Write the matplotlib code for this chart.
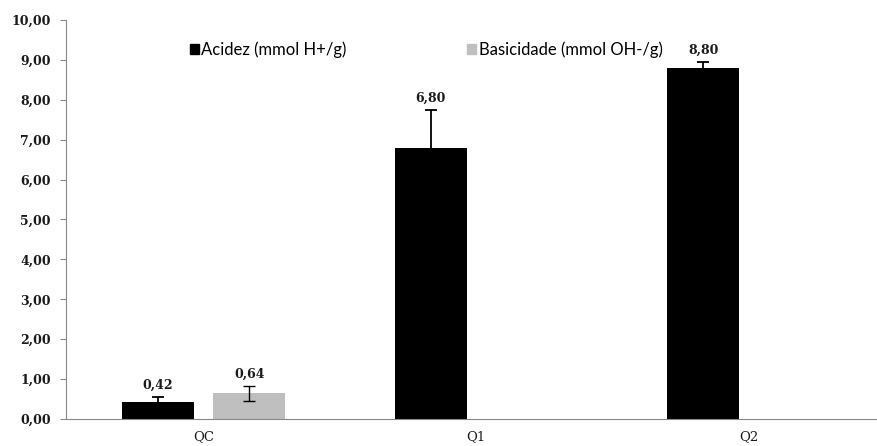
import numpy as np
import matplotlib.pyplot as plt
from matplotlib.patches import Patch

# Data
categories = ['QC', 'Q1', 'Q2']
acidez = [0.42, 6.80, 8.80]
acidez_err = [0.13, 0.94, 0.15]
basicidade = [0.64, 0.0, 0.0]
basicidade_err = [0.18, 0.0, 0.0]
acidez_labels = ['0,42', '6,80', '8,80']
basicidade_labels = ['0,64', None, None]
y_ticks = np.arange(0, 11, 1)

SERIF = {'family': 'DejaVu Serif', 'size': 9, 'weight': 'bold', 'color': '#1a1a1a'}

fig = plt.figure(figsize=(8.77, 4.46), dpi=100)
ax = fig.add_axes([66 / 877, 27 / 446, (877 - 66) / 877, 399 / 446])

x = np.arange(len(categories))
w = 0.265
off = 0.167

ax.bar(x - off, acidez, w, color='black', zorder=2)
ax.bar(x + off, basicidade, w, color='#bfbfbf', zorder=2)

ax.errorbar(x - off, acidez, yerr=acidez_err, fmt='none', ecolor='black',
            elinewidth=1.3, capsize=4, capthick=1.3, zorder=3)
bx = [xi + off for xi, v in zip(x, basicidade) if v > 0]
bv = [v for v in basicidade if v > 0]
be = [e for e, v in zip(basicidade_err, basicidade) if v > 0]
ax.errorbar(bx, bv, yerr=be, fmt='none', ecolor='black',
            elinewidth=1.0, capsize=4, capthick=1.0, zorder=3)

for xi, v, e, lab in zip(x, acidez, acidez_err, acidez_labels):
    ax.text(xi - off, v + e + 0.3, lab, ha='center', va='center', **SERIF)
for xi, v, e, lab in zip(x, basicidade, basicidade_err, basicidade_labels):
    if lab:
        ax.text(xi + off, v + e + 0.3, lab, ha='center', va='center', **SERIF)

ax.set_xlim(-0.505, 2.47)
ax.set_ylim(0, 10)
ax.set_yticks(y_ticks)
ax.set_yticklabels([f'{t:.2f}'.replace('.', ',') for t in y_ticks], **SERIF)
ax.set_xticks(x)
ax.set_xticklabels(categories, family='DejaVu Serif', fontsize=9.5, color='#1a1a1a')
ax.tick_params(axis='x', length=0, pad=8)
ax.tick_params(axis='y', length=4, color='#888888', pad=7)

for s in ['top', 'right']:
    ax.spines[s].set_visible(False)
for s in ['left', 'bottom']:
    ax.spines[s].set_color('#888888')

handles = [Patch(color='black', label='Acidez (mmol H+/g)'),
           Patch(color='#bfbfbf', label='Basicidade (mmol OH-/g)')]
ax.legend(handles=handles, ncol=2, loc='center', bbox_to_anchor=(0.444, 0.925),
          frameon=False, prop={'family': 'Lato', 'size': 12},
          handlelength=0.55, handleheight=0.55, handletextpad=0.15,
          columnspacing=7.2)

plt.savefig('out.png', dpi=100)
